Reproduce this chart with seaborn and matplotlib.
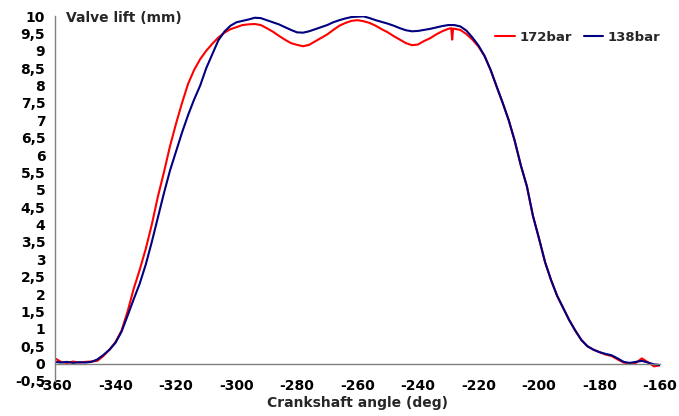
import matplotlib
matplotlib.use("Agg")
import matplotlib.pyplot as plt
import seaborn as sns
import pandas as pd

# Crank angle (deg) and valve lift (mm) for the two injection pressures
angle_172 = [-360, -358, -356, -354, -352, -350, -348, -346, -344, -342, -340,
             -338, -336, -334, -332, -330, -328, -326, -324, -322, -320, -318,
             -316, -314, -312, -310, -308, -306, -304, -302, -300, -298, -296,
             -294, -292, -290, -288, -286, -284, -282, -280, -278, -276, -274,
             -272, -270, -268, -266, -264, -262, -260, -258, -256, -254, -252,
             -250, -248, -246, -244, -242, -240, -238, -236, -234, -232, -230,
             -229, -228.7, -228.4, -226, -224, -222, -220, -218, -216, -214,
             -212, -210, -208, -206, -204, -202, -200, -198, -196, -194, -192,
             -190, -188, -186, -184, -182, -180, -178, -176, -174, -172, -170,
             -168, -166, -164, -162, -160]
lift_172 = [0.15, 0.05, 0.02, 0.06, 0.03, 0.05, 0.06, 0.08, 0.22, 0.40, 0.62,
            0.95, 1.50, 2.15, 2.70, 3.30, 4.00, 4.80, 5.50, 6.25, 6.90, 7.50,
            8.05, 8.45, 8.76, 9.00, 9.20, 9.38, 9.52, 9.62, 9.68, 9.74, 9.76,
            9.77, 9.74, 9.65, 9.55, 9.43, 9.32, 9.22, 9.17, 9.13, 9.17, 9.27,
            9.37, 9.47, 9.60, 9.72, 9.80, 9.86, 9.88, 9.85, 9.80, 9.72, 9.62,
            9.53, 9.42, 9.32, 9.22, 9.16, 9.18, 9.28, 9.36, 9.47, 9.56, 9.63,
            9.65, 9.32, 9.64, 9.60, 9.48, 9.32, 9.12, 8.85, 8.45, 7.97,
            7.50, 7.00, 6.40, 5.70, 5.10, 4.25, 3.60, 2.92, 2.40, 1.95, 1.60,
            1.25, 0.95, 0.68, 0.50, 0.40, 0.33, 0.26, 0.22, 0.12, 0.03, 0.00,
            0.02, 0.15, 0.04, -0.08, -0.05]

angle_138 = [-360, -358, -356, -354, -352, -350, -348, -346, -344, -342, -340,
             -338, -336, -334, -332, -330, -328, -326, -324, -322, -320, -318,
             -316, -314, -312, -310, -308, -306, -304, -302, -300, -298, -296,
             -294, -292, -290, -288, -286, -284, -282, -280, -278, -276, -274,
             -272, -270, -268, -266, -264, -262, -260, -258, -256, -254, -252,
             -250, -248, -246, -244, -242, -240, -238, -236, -234, -232, -230,
             -228, -226, -224, -222, -220, -218, -216, -214, -212, -210, -208,
             -206, -204, -202, -200, -198, -196, -194, -192, -190, -188, -186,
             -184, -182, -180, -178, -176, -174, -172, -170, -168, -166, -164,
             -162, -160]
lift_138 = [0.05, 0.03, 0.05, 0.02, 0.04, 0.03, 0.05, 0.12, 0.25, 0.40, 0.60,
            0.92, 1.38, 1.85, 2.30, 2.85, 3.50, 4.20, 4.90, 5.55, 6.10, 6.65,
            7.15, 7.60, 8.00, 8.50, 8.90, 9.30, 9.55, 9.72, 9.82, 9.86, 9.90,
            9.95, 9.94, 9.88, 9.82, 9.76, 9.68, 9.60, 9.53, 9.52, 9.56, 9.62,
            9.68, 9.74, 9.82, 9.88, 9.93, 9.97, 9.98, 9.99, 9.94, 9.88, 9.83,
            9.78, 9.72, 9.65, 9.59, 9.56, 9.57, 9.60, 9.63, 9.67, 9.71, 9.74,
            9.74, 9.70, 9.58, 9.38, 9.15, 8.85, 8.45, 7.97, 7.50, 7.00, 6.40,
            5.70, 5.10, 4.25, 3.60, 2.92, 2.40, 1.95, 1.60, 1.25, 0.95, 0.68,
            0.50, 0.40, 0.33, 0.28, 0.24, 0.15, 0.05, 0.02, 0.05, 0.08, 0.03,
            -0.02, -0.04]

series_names = ["172bar", "138bar"]
series_colors = ["#FF0000", "#000080"]

x_ticks = list(range(-360, -159, 20))
y_ticks = [i * 0.5 for i in range(-1, 21)]
y_tick_labels = [("%g" % v).replace(".", ",") for v in y_ticks]

df = pd.concat([
    pd.DataFrame({"angle": angle_172, "lift": lift_172, "series": series_names[0]}),
    pd.DataFrame({"angle": angle_138, "lift": lift_138, "series": series_names[1]}),
], ignore_index=True)

sns.set_style("white")
plt.rcParams["font.family"] = ["DejaVu Sans"]
plt.rcParams["font.weight"] = "bold"

FS = 10

fig = plt.figure(figsize=(6.79, 4.16), dpi=100)
ax = fig.add_axes([55 / 679, 1 - 381 / 416, 605 / 679, 365 / 416])

sns.lineplot(data=df, x="angle", y="lift", hue="series", hue_order=series_names,
             palette=series_colors, sort=False, estimator=None, linewidth=1.5,
             ax=ax)

ax.set_xlim(-360, -160)
ax.set_ylim(-0.5, 10)
ax.set_xticks(x_ticks)
ax.set_xticklabels([str(t) for t in x_ticks])
ax.set_yticks(y_ticks)
ax.set_yticklabels(y_tick_labels)

for side in ("top", "right"):
    ax.spines[side].set_visible(False)
ax.spines["bottom"].set_position(("data", 0))
for side in ("left", "bottom"):
    ax.spines[side].set_color("#808080")
    ax.spines[side].set_linewidth(1.0)

ax.tick_params(axis="both", which="both", direction="out", length=4, width=1,
               color="#808080", labelsize=FS, labelcolor="black")
ax.tick_params(axis="x", pad=7)
ax.tick_params(axis="y", pad=3)
for lbl in ax.get_xticklabels() + ax.get_yticklabels():
    lbl.set_fontweight("bold")

ax.set_ylabel("")
ax.set_xlabel("Crankshaft angle (deg)", fontsize=FS, fontweight="bold", labelpad=2)
ax.text(11 / 605, 0.995, "Valve lift (mm)", transform=ax.transAxes, fontsize=FS,
        fontweight="bold", ha="left", va="center")

leg = ax.legend(loc="center right", bbox_to_anchor=(1.0, 0.942), ncol=2,
                frameon=False, borderaxespad=0, borderpad=0,
                handlelength=1.5, handletextpad=0.3, columnspacing=0.9,
                prop={"size": 9.5, "weight": "bold"})
for line in leg.get_lines():
    line.set_linewidth(1.5)

fig.savefig("out.png", dpi=100)
